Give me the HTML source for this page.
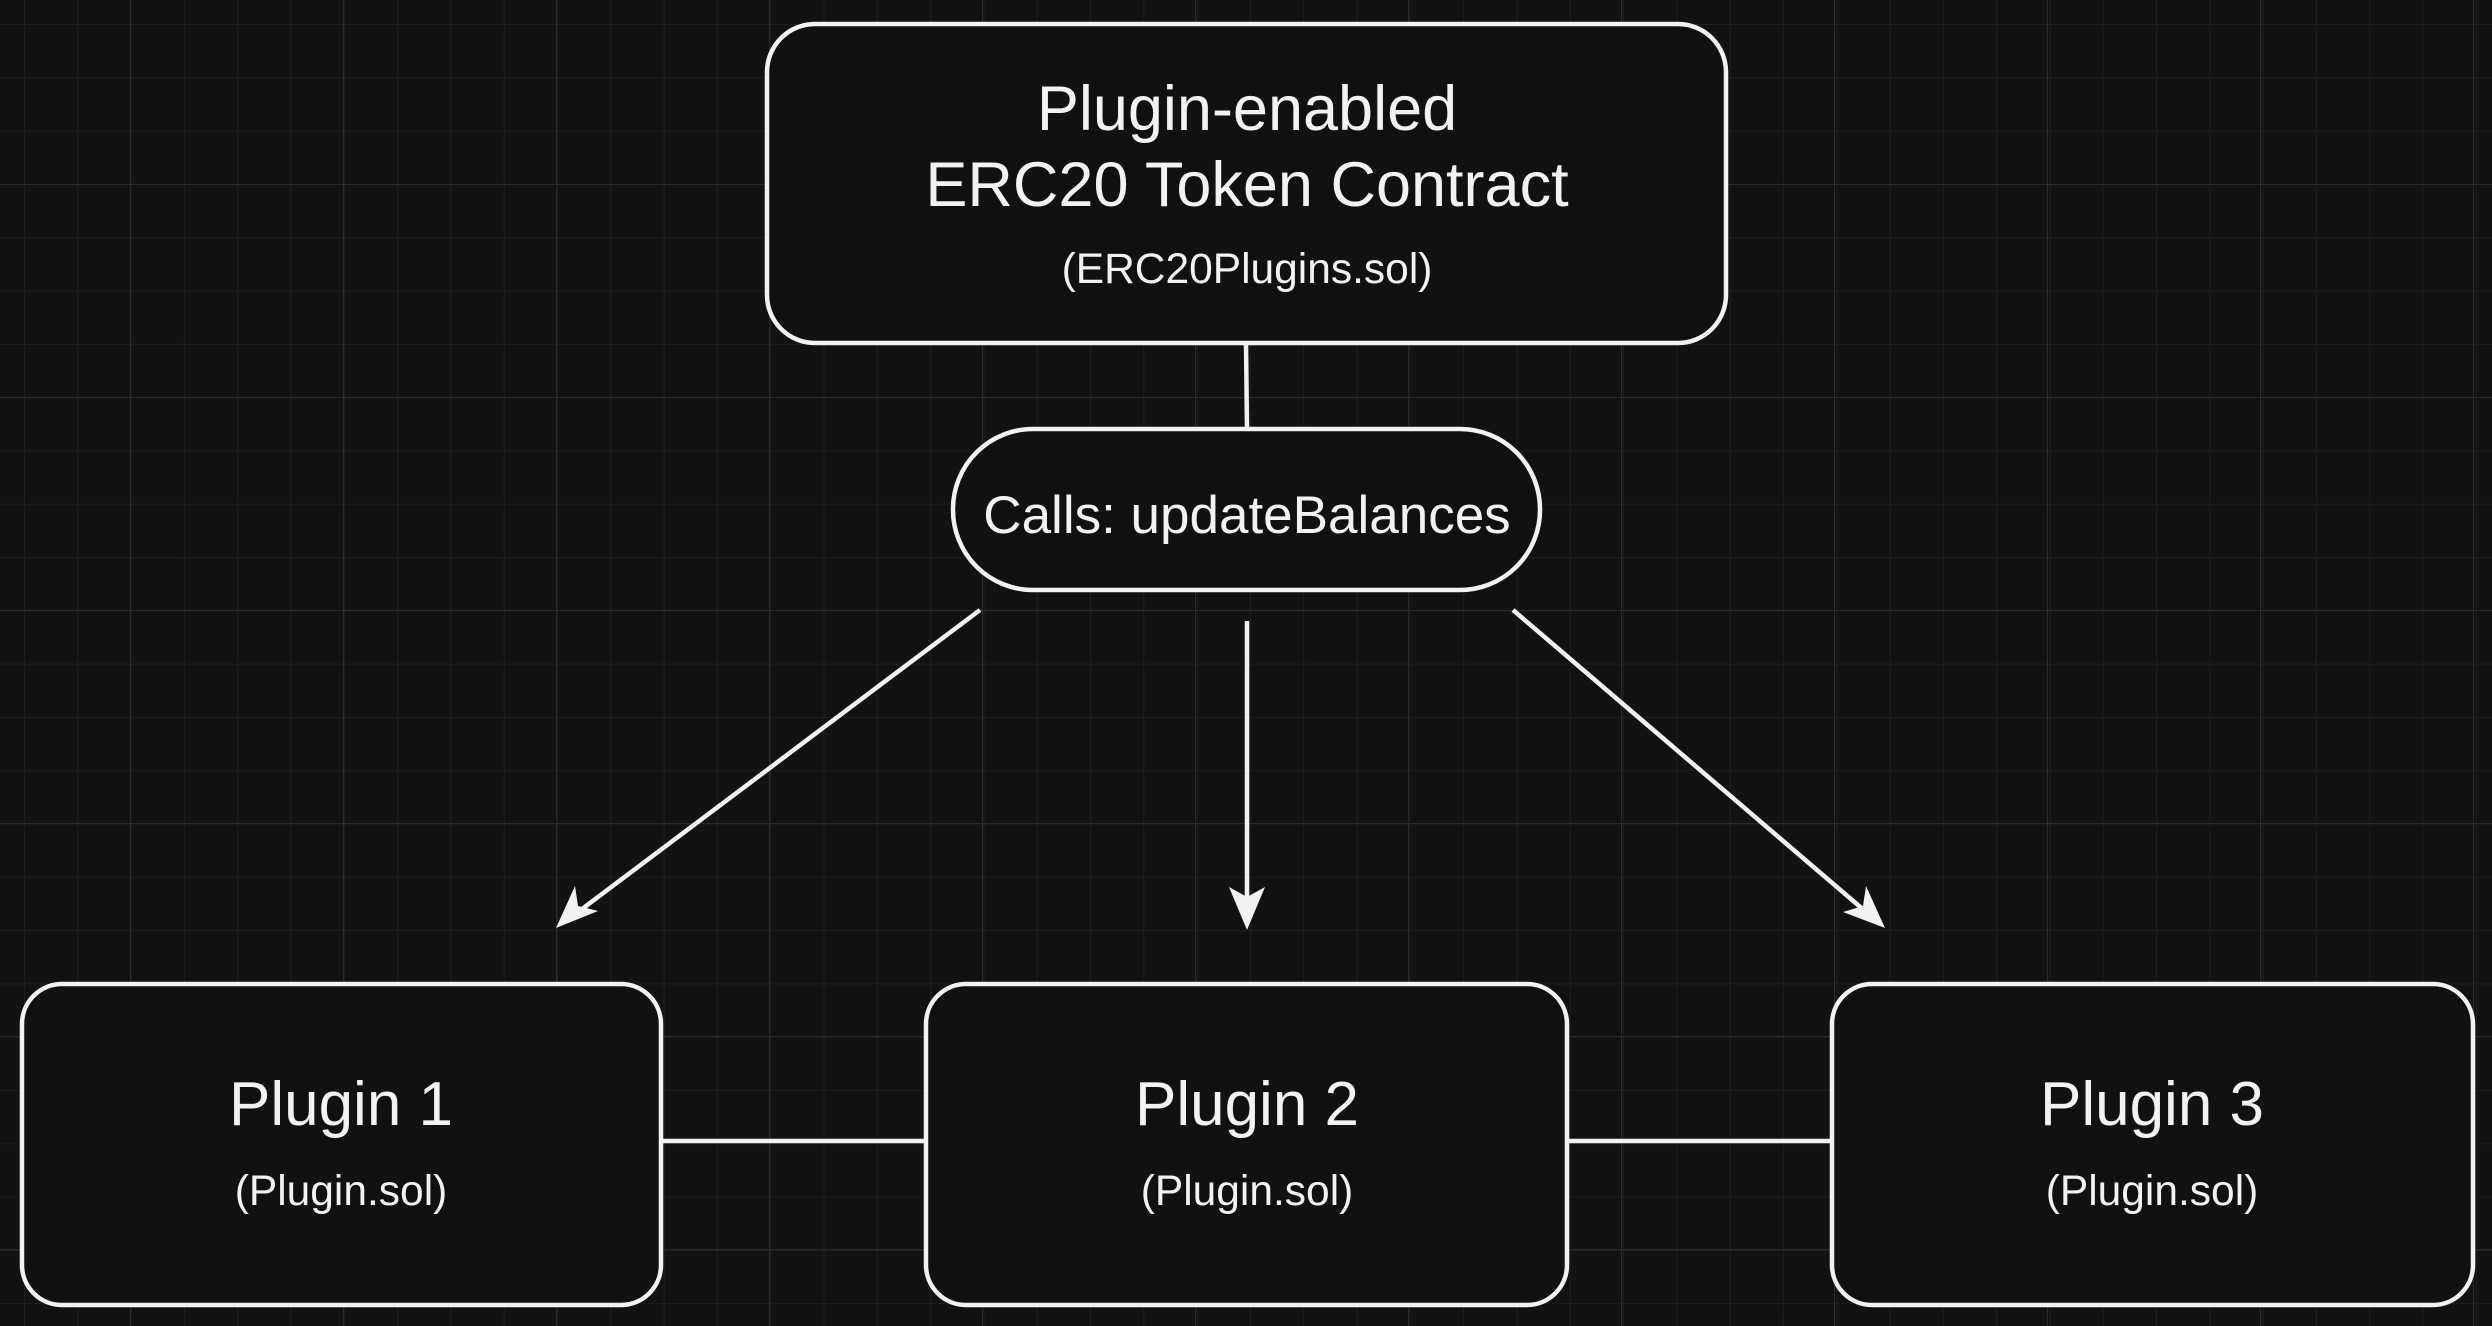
<!DOCTYPE html>
<html><head><meta charset="utf-8"><style>
html,body{margin:0;padding:0;background:#121212;}
svg{display:block}
text{font-family:"Liberation Sans",Arial,sans-serif;fill:#f2f2f2;text-anchor:middle}
</style></head><body>
<svg width="2492" height="1326" viewBox="0 0 2492 1326" xmlns="http://www.w3.org/2000/svg">
<defs>
<pattern id="minor" x="24" y="24" width="53.3" height="53.3" patternUnits="userSpaceOnUse">
<path d="M0 0H53.3M0 0V53.3" stroke="#1e1e1e" stroke-width="2" fill="none"/>
</pattern>
<pattern id="major" x="130" y="184" width="213" height="213" patternUnits="userSpaceOnUse">
<path d="M0 0H213M0 0V213" stroke="#2a2a2a" stroke-width="2" fill="none"/>
</pattern>
</defs>
<rect width="2492" height="1326" fill="#121212"/>
<rect width="2492" height="1326" fill="url(#minor)"/>
<rect width="2492" height="1326" fill="url(#major)"/>

<g stroke="#f2f2f2" stroke-width="4.5" fill="#111">
<line x1="1246" y1="343" x2="1247" y2="429"/>
<line x1="661" y1="1141" x2="926" y2="1141"/>
<line x1="1567" y1="1141" x2="1832" y2="1141"/>
<rect x="767" y="24" width="959" height="319" rx="48"/>
<rect x="953" y="429" width="587" height="161" rx="80"/>
<rect x="22" y="984" width="639" height="321" rx="40"/>
<rect x="926" y="984" width="641" height="321" rx="40"/>
<rect x="1832" y="984" width="641" height="321" rx="40"/>
<line x1="980" y1="610" x2="570" y2="918"/>
<line x1="1247" y1="621" x2="1247" y2="912"/>
<line x1="1513" y1="610" x2="1872" y2="917"/>
</g>
<g fill="#f2f2f2">
<polygon points="1247,930 1229,887 1247,897 1265,887"/>
<polygon points="556,928 575,886 578,906 598,911"/>
<polygon points="1885,928 1843,912 1863,906 1866,886"/>
</g>

<text x="1247" y="130" font-size="63">Plugin-enabled</text>
<text x="1247" y="206" font-size="63">ERC20 Token Contract</text>
<text x="1247" y="283" font-size="42.5">(ERC20Plugins.sol)</text>
<text x="1247" y="533" font-size="53">Calls: updateBalances</text>

<text x="341" y="1125" font-size="62">Plugin 1</text>
<text x="341" y="1205" font-size="42.5">(Plugin.sol)</text>
<text x="1247" y="1125" font-size="62">Plugin 2</text>
<text x="1247" y="1205" font-size="42.5">(Plugin.sol)</text>
<text x="2152" y="1125" font-size="62">Plugin 3</text>
<text x="2152" y="1205" font-size="42.5">(Plugin.sol)</text>
</svg>
</body></html>
